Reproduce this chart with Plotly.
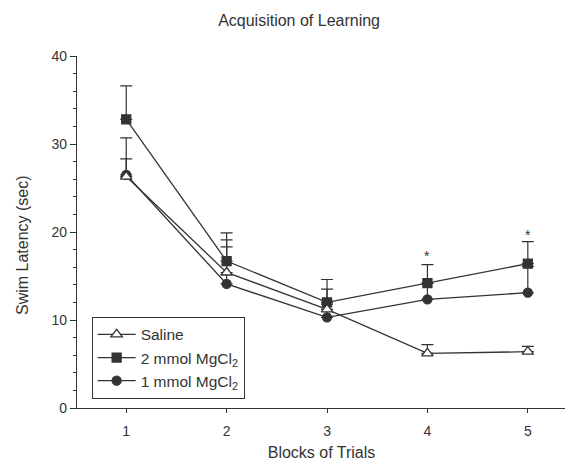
import plotly.graph_objects as go

blocks = [1, 2, 3, 4, 5]
saline = [26.3, 15.4, 11.2, 6.2, 6.4]
saline_err = [4.4, 3.7, 2.3, 1.0, 0.6]
mg2 = [32.8, 16.7, 12.0, 14.2, 16.4]
mg2_err = [3.8, 3.2, 2.6, 2.1, 2.5]
mg1 = [26.5, 14.1, 10.3, 12.35, 13.1]
mg1_err = [1.8, 4.2, 1.5, 1.8, 3.0]
star_x = [4, 5]
star_y = [17.3, 19.7]

LC = "#333333"
FONT = "Liberation Sans, Arial, sans-serif"

fig = go.Figure()

def add(name, y, err, symbol, fill, size):
    fig.add_trace(go.Scatter(
        x=blocks, y=y, name=name, mode="lines+markers",
        line=dict(color=LC, width=1.3),
        marker=dict(symbol=symbol, size=size, color=fill, line=dict(color=LC, width=1.3)),
        error_y=dict(type="data", array=err, arrayminus=[0] * len(err), symmetric=False,
                     color=LC, thickness=1.2, width=6),
    ))

add("1 mmol MgCl<sub>2</sub>", mg1, mg1_err, "circle", LC, 9)
add("2 mmol MgCl<sub>2</sub>", mg2, mg2_err, "square", LC, 9)
add("Saline", saline, saline_err, "triangle-up", "white", 10)

for sx, sy in zip(star_x, star_y):
    fig.add_annotation(x=sx, y=sy, text="*", showarrow=False,
                       font=dict(size=14, color=LC, family=FONT), yanchor="middle")

fig.add_annotation(text="Swim Latency (sec)", textangle=-90, showarrow=False,
                   xref="paper", yref="paper", x=-0.0954, y=0.463,
                   xanchor="center", yanchor="middle",
                   font=dict(size=16, family=FONT, color=LC))

fig.update_layout(
    width=573, height=473,
    margin=dict(l=62, r=8, t=48, b=73, autoexpand=False),
    plot_bgcolor="white", paper_bgcolor="white",
    font=dict(family=FONT, color=LC, size=14),
    showlegend=True,
    legend=dict(x=0.043, y=0.259, xanchor="left", yanchor="top",
                bordercolor=LC, borderwidth=1, bgcolor="white",
                traceorder="reversed", font=dict(size=15.5, family=FONT, color=LC),
                itemwidth=38, tracegroupgap=0),
    title=dict(text="Acquisition of Learning", x=0.508, xref="container", xanchor="center",
               y=0.974, yref="container", yanchor="middle",
               font=dict(size=16, family=FONT, color=LC)),
    xaxis=dict(range=[0.44, 5.45], tickvals=blocks, showgrid=False, zeroline=False,
               showline=True, linecolor=LC, linewidth=1.2, ticks="outside", ticklen=4,
               tickcolor=LC, ticklabelstandoff=6, automargin=False,
               tickfont=dict(size=14),
               title=dict(text="Blocks of Trials", font=dict(size=16, family=FONT, color=LC), standoff=8)),
    yaxis=dict(range=[0, 40], tickvals=[0, 10, 20, 30, 40], showgrid=False, zeroline=False,
               showline=True, linecolor=LC, linewidth=1.2, ticks="outside", ticklen=6,
               tickcolor=LC, anchor="free", position=0.012, automargin=False,
               tickfont=dict(size=14),
               minor=dict(dtick=2, ticks="outside", ticklen=3, tickcolor=LC)),
)

fig.write_html("out.html")
